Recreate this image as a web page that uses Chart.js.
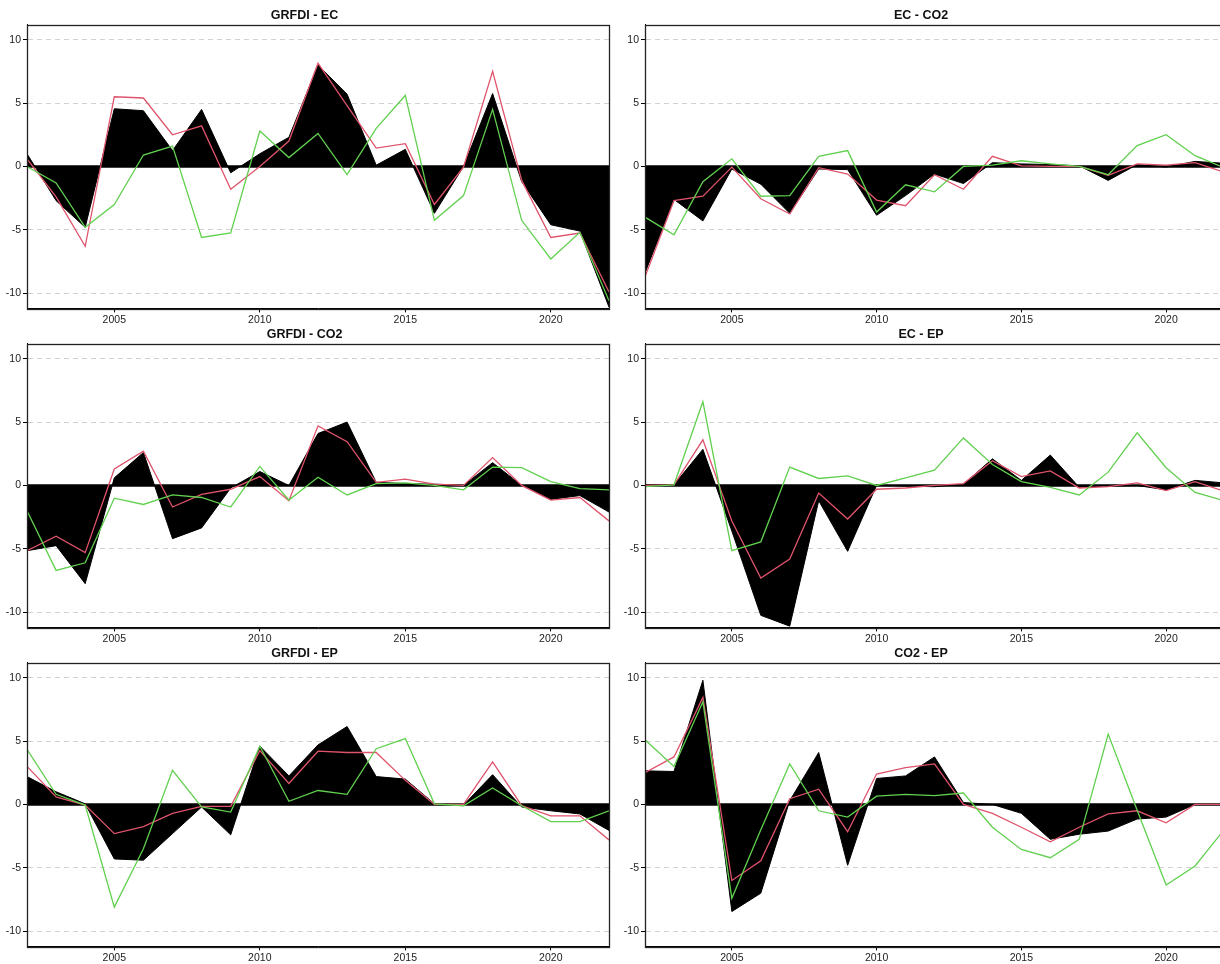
<!DOCTYPE html>
<html>
<head>
<meta charset="utf-8">
<script src="https://cdn.jsdelivr.net/npm/chart.js@4.4.1/dist/chart.umd.min.js"></script>
<style>
  html, body { margin: 0; padding: 0; background: #fff; overflow: hidden; width: 1220px; height: 964px; }
  canvas { position: absolute; }
</style>
</head>
<body>
<canvas id="p1" width="612" height="326" style="left:0;top:0"></canvas>
<canvas id="p2" width="609" height="326" style="left:618px;top:0"></canvas>
<canvas id="p3" width="612" height="326" style="left:0;top:319px"></canvas>
<canvas id="p4" width="609" height="326" style="left:618px;top:319px"></canvas>
<canvas id="p5" width="612" height="326" style="left:0;top:638px"></canvas>
<canvas id="p6" width="609" height="326" style="left:618px;top:638px"></canvas>
<script>
// ── Data ─────────────────────────────────────────────────────
const years  = [2002, 2003, 2004, 2005, 2006, 2007, 2008, 2009, 2010, 2011, 2012,
                2013, 2014, 2015, 2016, 2017, 2018, 2019, 2020, 2021, 2022];
const xTicks = [2005, 2010, 2015, 2020];
const yTicks = [-10, -5, 0, 5, 10];

// GRFDI - EC
const grfdiEcBlack = [1.0, -2.7, -4.8, 4.55, 4.4, 1.25, 4.5, -0.5, 1.0, 2.3, 8.0, 5.7, 0.1, 1.35, -3.7, 0.0, 5.75, -1.2, -4.6, -5.1, -11.1];
const grfdiEcRed   = [0.6, -2.4, -6.3, 5.5, 5.4, 2.5, 3.2, -1.8, 0.0, 2.0, 8.15, 4.8, 1.45, 1.8, -3.0, -0.05, 7.5, -1.1, -5.6, -5.25, -9.9];
const grfdiEcGreen = [0.0, -1.3, -4.8, -3.0, 0.9, 1.6, -5.6, -5.25, 2.8, 0.7, 2.6, -0.65, 3.0, 5.6, -4.25, -2.3, 4.5, -4.25, -7.3, -5.2, -10.6];

// EC - CO2
const ecCo2Black = [-8.4, -2.6, -4.3, -0.2, -1.4, -3.7, -0.2, -0.25, -3.85, -2.3, -0.6, -1.35, 0.3, 0.2, 0.15, 0.05, -1.1, 0.15, -0.05, 0.4, 0.25];
const ecCo2Red   = [-8.7, -2.7, -2.35, -0.05, -2.55, -3.75, -0.1, -0.6, -2.65, -3.1, -0.65, -1.8, 0.8, 0.05, 0.0, 0.0, -0.7, 0.2, 0.1, 0.3, -0.45];
const ecCo2Green = [-4.0, -5.4, -1.2, 0.6, -2.35, -2.3, 0.8, 1.25, -3.6, -1.45, -2.0, 0.0, 0.1, 0.45, 0.2, 0.0, -0.65, 1.65, 2.5, 0.85, -0.1];

// GRFDI - CO2
const grfdiCo2Black = [-5.15, -4.75, -7.75, 0.6, 2.6, -4.2, -3.35, -0.2, 1.1, 0.0, 4.1, 5.0, 0.25, 0.15, 0.1, 0.0, 1.8, 0.0, -1.1, -0.8, -2.1];
const grfdiCo2Red   = [-5.15, -4.0, -5.3, 1.3, 2.7, -1.7, -0.7, -0.3, 0.7, -1.2, 4.7, 3.45, 0.25, 0.5, 0.1, 0.0, 2.2, 0.0, -1.15, -0.95, -2.8];
const grfdiCo2Green = [-2.0, -6.7, -6.1, -1.0, -1.5, -0.75, -0.95, -1.7, 1.5, -1.15, 0.65, -0.75, 0.15, 0.2, 0.0, -0.35, 1.45, 1.4, 0.3, -0.25, -0.35];

// EC - EP
const ecEpBlack = [0.05, 0.05, 2.85, -3.6, -10.25, -11.1, -1.2, -5.2, 0.0, -0.05, -0.1, 0.1, 2.1, 0.4, 2.4, -0.15, -0.05, 0.0, -0.35, 0.4, 0.2];
const ecEpRed   = [0.0, 0.05, 3.6, -2.8, -7.3, -5.8, -0.6, -2.65, -0.3, -0.2, 0.0, 0.15, 1.95, 0.7, 1.15, -0.2, -0.1, 0.2, -0.4, 0.3, -0.45];
const ecEpGreen = [-0.1, 0.05, 6.6, -5.15, -4.45, 1.45, 0.55, 0.75, 0.0, 0.6, 1.2, 3.75, 1.65, 0.3, -0.15, -0.75, 1.05, 4.15, 1.4, -0.55, -1.2];

// GRFDI - EP
const grfdiEpBlack = [2.2, 1.0, 0.05, -4.3, -4.4, -2.3, -0.2, -2.4, 4.6, 2.25, 4.7, 6.15, 2.2, 2.0, 0.05, -0.05, 2.35, -0.2, -0.5, -0.75, -2.05];
const grfdiEpRed   = [3.0, 0.6, -0.05, -2.3, -1.75, -0.7, -0.15, -0.15, 4.25, 1.65, 4.2, 4.1, 4.1, 1.9, 0.0, 0.0, 3.35, -0.1, -0.9, -0.9, -2.8];
const grfdiEpGreen = [4.35, 0.8, -0.05, -8.1, -3.5, 2.7, -0.2, -0.6, 4.6, 0.25, 1.1, 0.8, 4.4, 5.2, 0.05, -0.1, 1.3, -0.1, -1.35, -1.35, -0.5];

// CO2 - EP
const co2EpBlack = [2.65, 2.6, 9.8, -8.45, -7.0, 0.3, 4.1, -4.8, 2.05, 2.25, 3.75, 0.15, 0.0, -0.7, -2.75, -2.35, -2.1, -1.15, -1.0, 0.0, 0.0];
const co2EpRed   = [2.5, 3.75, 8.45, -6.0, -4.45, 0.45, 1.2, -2.15, 2.4, 2.9, 3.2, 0.0, -0.7, -1.8, -2.95, -1.8, -0.75, -0.5, -1.45, 0.0, 0.0];
const co2EpGreen = [5.1, 3.0, 8.1, -7.4, -2.0, 3.2, -0.5, -1.0, 0.65, 0.8, 0.7, 0.9, -1.8, -3.55, -4.2, -2.75, 5.55, -0.45, -6.35, -4.85, -2.0];

const RED   = '#DF536B';
const GREEN = '#61D04F';
const FONT  = 'Liberation Sans, Arial, sans-serif';

// ── Frame + zero line ────────────────────────────────────────
const framePlugin = {
  id: 'frame',
  beforeDatasetsDraw(chart) {
    const { ctx, chartArea: a, scales } = chart;
    const y0 = scales.y.getPixelForValue(0);
    ctx.save();
    ctx.strokeStyle = '#000';
    ctx.lineWidth = 2.5;
    ctx.beginPath();
    ctx.moveTo(a.left, y0);
    ctx.lineTo(a.right, y0);
    ctx.stroke();
    ctx.restore();
  },
  afterDraw(chart) {
    const { ctx, chartArea: a } = chart;
    ctx.save();
    ctx.strokeStyle = '#222';
    ctx.lineWidth = 1.3;
    ctx.strokeRect(Math.round(a.left) + 0.5, Math.round(a.top) + 0.5,
                   Math.round(a.right - a.left), Math.round(a.bottom - a.top));
    ctx.restore();
  }
};

function pts(vals) {
  return vals.map((v, i) => ({ x: years[i], y: v }));
}

function makePanel(id, title, black, red, green) {
  new Chart(document.getElementById(id), {
    type: 'line',
    data: {
      datasets: [
        { data: pts(black), borderColor: '#000', backgroundColor: '#000', borderWidth: 1,
          fill: 'origin', pointRadius: 0, tension: 0, order: 3 },
        { data: pts(red), borderColor: RED, borderWidth: 1.3, fill: false,
          pointRadius: 0, tension: 0, order: 2 },
        { data: pts(green), borderColor: GREEN, borderWidth: 1.3, fill: false,
          pointRadius: 0, tension: 0, order: 1 },
      ]
    },
    options: {
      responsive: false,
      animation: false,
      layout: { padding: { left: 0, right: 3, top: 0, bottom: 0 } },
      plugins: {
        legend: { display: false },
        tooltip: { enabled: false },
        title: {
          display: true,
          text: title,
          color: '#111',
          font: { family: FONT, size: 12.5, weight: 'bold' },
          padding: { top: 8.5, bottom: 1 }
        }
      },
      scales: {
        x: {
          type: 'linear',
          min: 2002,
          max: 2022,
          afterBuildTicks: s => { s.ticks = xTicks.map(v => ({ value: v })); },
          afterFit: s => { s.height = 17.6; },
          ticks: {
            color: '#222', padding: 1, maxRotation: 0, autoSkip: false,
            font: { family: FONT, size: 10.5 },
            callback: v => String(v)
          },
          grid: { drawOnChartArea: false, drawTicks: true, tickLength: 4, tickColor: '#000' },
          border: { display: true, color: '#000' }
        },
        y: {
          type: 'linear',
          min: -11.2,
          max: 11.2,
          afterBuildTicks: s => { s.ticks = yTicks.map(v => ({ value: v })); },
          afterFit: s => { s.width = 27; },
          ticks: {
            color: '#222', padding: 2,
            font: { family: FONT, size: 10.5 },
            callback: v => String(v)
          },
          grid: {
            color: c => (c.tick && c.tick.value === 0) ? 'rgba(0,0,0,0)' : '#d2d2d2',
            lineWidth: 1,
            drawTicks: true,
            tickLength: 4,
            tickColor: '#000'
          },
          border: { display: true, color: '#000', dash: [5, 4] }
        }
      }
    },
    plugins: [framePlugin]
  });
}

makePanel('p1', 'GRFDI - EC',  grfdiEcBlack,  grfdiEcRed,  grfdiEcGreen);
makePanel('p2', 'EC - CO2',    ecCo2Black,    ecCo2Red,    ecCo2Green);
makePanel('p3', 'GRFDI - CO2', grfdiCo2Black, grfdiCo2Red, grfdiCo2Green);
makePanel('p4', 'EC - EP',     ecEpBlack,     ecEpRed,     ecEpGreen);
makePanel('p5', 'GRFDI - EP',  grfdiEpBlack,  grfdiEpRed,  grfdiEpGreen);
makePanel('p6', 'CO2 - EP',    co2EpBlack,    co2EpRed,    co2EpGreen);
</script>
</body>
</html>
